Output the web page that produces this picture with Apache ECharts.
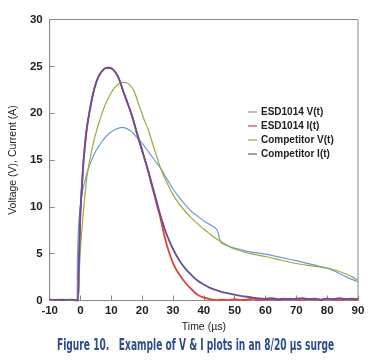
<!DOCTYPE html>
<html>
<head>
<meta charset="utf-8">
<script src="https://cdn.jsdelivr.net/npm/echarts@6/dist/echarts.min.js"></script>
<style>
html,body{margin:0;padding:0;background:#fff;}
#chart{width:377px;height:362px;}
</style>
</head>
<body>
<div id="chart"></div>
<script>
// ---- data ----
var xTicks = [-10, 0, 10, 20, 30, 40, 50, 60, 70, 80, 90];
var yTicks = [0, 5, 10, 15, 20, 25, 30];
var seriesNames = ['ESD1014 V(t)', 'ESD1014 I(t)', 'Competitor V(t)', 'Competitor I(t)'];

var esdVTime = [-10, -1.3, -1.0, -0.7, -0.4, 0, 0.5, 1, 2, 3, 4, 5, 6, 7, 8, 9, 10, 11, 12, 13, 14, 15, 16, 17, 18, 19, 20, 22, 24, 26, 28, 30, 32, 34, 36, 38, 40, 42, 43.5, 44.3, 44.8, 45.3, 46, 48, 50, 55, 60, 65, 70, 75, 80, 83, 86, 88, 90];
var esdV = [0, 0, 4.3, 7.5, 9.0, 10.2, 11.4, 12.2, 13.5, 14.5, 15.3, 16.0, 16.5, 17.0, 17.4, 17.75, 18.0, 18.2, 18.35, 18.45, 18.45, 18.35, 18.15, 17.9, 17.5, 17.15, 16.8, 15.9, 15.0, 14.1, 13.0, 11.9, 11.0, 10.2, 9.5, 9.0, 8.5, 8.1, 7.8, 7.5, 7.0, 6.3, 6.1, 5.8, 5.6, 5.2, 4.95, 4.6, 4.25, 3.85, 3.45, 3.05, 2.55, 2.25, 2.0];

var esdITime = [-10, -6, -3, -0.9, -0.6, -0.3, 0, 0.5, 1, 2, 3, 4, 5, 6, 7, 8, 9, 10, 11, 12, 13, 14, 15, 16, 17, 18, 19, 20, 21, 22, 23, 24, 25, 26, 27, 28, 30, 32, 34, 36, 38, 40, 42, 44, 46, 48, 50, 52, 54, 56, 58, 60, 62, 64, 66, 68, 70, 72, 74, 76, 78, 80, 82, 84, 86, 88, 90];
var esdI = [0.05, 0.1, 0.05, 0, 3, 6.5, 9.7, 12.5, 15.0, 18.3, 20.3, 22.0, 23.2, 24.0, 24.5, 24.8, 24.85, 24.8, 24.5, 24.0, 23.2, 22.2, 21.3, 20.4, 19.4, 18.2, 17.1, 16.0, 14.9, 13.7, 12.4, 11.2, 9.9, 8.7, 7.2, 5.9, 4.0, 2.8, 1.9, 1.2, 0.6, 0.3, 0.15, 0.05, 0.1, 0.05, 0.15, 0.05, 0.1, 0.2, 0.05, 0.1, 0.15, 0.05, 0.1, 0.2, 0.1, 0.05, 0.15, 0.1, 0.05, 0.2, 0.1, 0.05, 0.15, 0.1, 0.1];

var compVTime = [-10, -0.9, -0.5, 0, 0.5, 1, 2, 3, 4, 5, 6, 7, 8, 9, 10, 11, 12, 13, 14, 15, 16, 17, 18, 19, 20, 21, 22, 24, 26, 28, 30, 32, 34, 36, 38, 40, 42, 44, 46, 48, 50, 55, 60, 65, 70, 75, 80, 83, 86, 88, 90];
var compV = [0, 0, 2.5, 5.7, 7.8, 9.7, 13.0, 15.0, 16.6, 17.9, 19.0, 20.0, 20.9, 21.6, 22.2, 22.7, 23.0, 23.2, 23.3, 23.25, 23.0, 22.6, 21.8, 20.8, 19.9, 19.0, 18.2, 16.1, 14.1, 12.6, 11.3, 10.3, 9.5, 8.8, 8.2, 7.6, 7.1, 6.6, 6.2, 5.8, 5.5, 5.0, 4.7, 4.3, 3.95, 3.7, 3.45, 3.2, 2.85, 2.55, 2.15];

var compITime = [-10, -6, -3, -0.9, -0.6, -0.3, 0, 0.5, 1, 2, 3, 4, 5, 6, 7, 8, 9, 10, 11, 12, 13, 14, 15, 16, 17, 18, 19, 20, 21, 22, 23, 24, 26, 28, 30, 32, 34, 36, 38, 40, 42, 44, 46, 48, 50, 52, 54, 56, 58, 60, 62, 64, 66, 68, 70, 72, 74, 76, 78, 80, 82, 84, 86, 88, 90];
var compI = [0.1, 0.05, 0.1, 0, 3, 6.5, 9.7, 12.5, 15.0, 18.3, 20.3, 22.0, 23.2, 24.0, 24.5, 24.8, 24.85, 24.8, 24.5, 24.0, 23.2, 22.2, 21.3, 20.4, 19.4, 18.2, 17.1, 16.0, 14.9, 13.8, 12.6, 11.4, 9.0, 7.0, 5.5, 4.3, 3.4, 2.7, 2.1, 1.7, 1.35, 1.1, 0.9, 0.75, 0.62, 0.5, 0.4, 0.3, 0.22, 0.18, 0.25, 0.15, 0.2, 0.1, 0.2, 0.25, 0.15, 0.2, 0.1, 0.2, 0.15, 0.25, 0.15, 0.2, 0.15];

var colors = ['#6b9bd4', '#e0413b', '#9aab3c', '#684f9c'];

function pairs(ts, vs) {
  var out = [];
  for (var i = 0; i < ts.length; i++) out.push([ts[i], vs[i]]);
  return out;
}

var chart = echarts.init(document.getElementById('chart'), null, {renderer: 'canvas'});
var labelStyle = {fontFamily: 'Liberation Sans, Arial, sans-serif', fontWeight: 'bold', fontSize: 11.5, color: '#222'};

chart.setOption({
  animation: false,
  backgroundColor: '#fff',
  color: colors,
  grid: {left: 38, right: 19, top: 19.5, bottom: 61.5, show: true, borderColor: '#8a8a8a', borderWidth: 1},
  legend: {
    orient: 'vertical', left: 243, top: 102,
    icon: 'rect', itemWidth: 9, itemHeight: 1.2, itemGap: 4,
    textStyle: {fontFamily: 'Liberation Sans, Arial, sans-serif', fontWeight: 'bold', fontSize: 10, color: '#222', padding: [0, 0, 0, -1]},
    data: seriesNames
  },
  xAxis: {
    type: 'value', min: xTicks[0], max: xTicks[xTicks.length - 1], interval: 10,
    name: 'Time (\u00b5s)', nameLocation: 'middle', nameGap: 14,
    nameTextStyle: {fontFamily: 'Liberation Sans, Arial, sans-serif', fontSize: 10.5, color: '#222'},
    axisLine: {show: true, onZero: false, lineStyle: {color: '#8a8a8a', width: 1}},
    axisTick: {show: true, inside: true, length: 5, lineStyle: {color: '#8a8a8a'}},
    axisLabel: Object.assign({margin: 4}, labelStyle),
    splitLine: {show: false}
  },
  yAxis: {
    type: 'value', min: yTicks[0], max: yTicks[yTicks.length - 1], interval: 5,
    name: 'Voltage (V), Current (A)', nameLocation: 'middle', nameGap: 22,
    nameTextStyle: {fontFamily: 'Liberation Sans, Arial, sans-serif', fontSize: 10.5, color: '#222'},
    axisLine: {show: true, onZero: false, lineStyle: {color: '#8a8a8a', width: 1}},
    axisTick: {show: true, inside: true, length: 5, lineStyle: {color: '#8a8a8a'}},
    axisLabel: Object.assign({margin: 7}, labelStyle),
    splitLine: {show: false}
  },
  series: [
    {name: seriesNames[0], type: 'line', showSymbol: false, symbol: 'none', smooth: 0.2, data: pairs(esdVTime, esdV), lineStyle: {width: 1.2}, z: 2},
    {name: seriesNames[1], type: 'line', showSymbol: false, symbol: 'none', smooth: 0.2, data: pairs(esdITime, esdI), lineStyle: {width: 1.8}, z: 3},
    {name: seriesNames[2], type: 'line', showSymbol: false, symbol: 'none', smooth: 0.2, data: pairs(compVTime, compV), lineStyle: {width: 1.2}, z: 4},
    {name: seriesNames[3], type: 'line', showSymbol: false, symbol: 'none', smooth: 0.2, data: pairs(compITime, compI), lineStyle: {width: 1.8}, z: 5}
  ],
  graphic: [{
    type: 'text', x: 57, y: 339, scaleX: 0.675,
    style: {
      text: 'Figure 10.   Example of V & I plots in an 8/20 \u00b5s surge',
      font: 'bold 15px "Liberation Sans Narrow", "DejaVu Sans Condensed", sans-serif',
      fill: '#2c4c8c'
    }
  }]
});
</script>
</body>
</html>
